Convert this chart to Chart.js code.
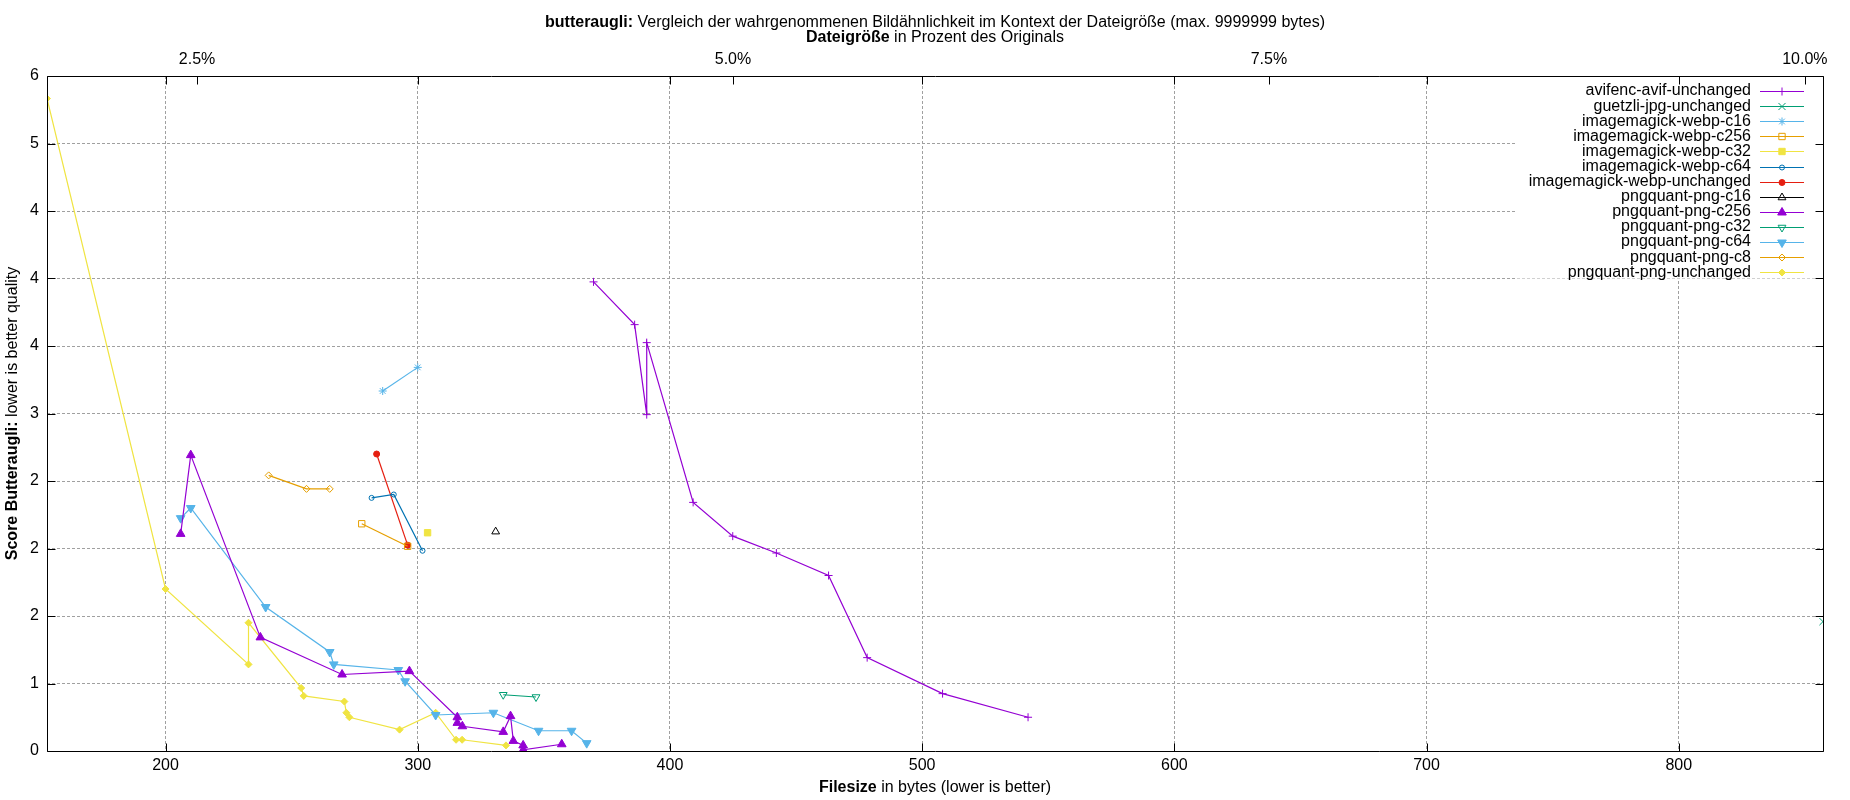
<!DOCTYPE html>
<html>
<head>
<meta charset="utf-8">
<script src="https://cdn.jsdelivr.net/npm/chart.js@4"></script>
<style>
  html, body { margin: 0; padding: 0; background: #fff; }
  canvas { display: block; }
</style>
</head>
<body>
<canvas id="grafico" width="1850" height="800"></canvas>
<script>
// werte
const origSize = 8500;
const xMin = 153.0;
const xMax = 857.2;

const xTickValues = [200, 300, 400, 500, 600, 700, 800];
const yTickValues = [0, 0.6, 1.2, 1.8, 2.4, 3.0, 3.6, 4.2, 4.8, 5.4, 6.0];
const yTickLabels = ['0', '1', '2', '2', '2', '3', '4', '4', '4', '5', '6'];
const topTickValues = [2.5, 5, 7.5, 10];
const topTickLabels = ['2.5%', '5.0%', '7.5%', '10.0%'];

const avifX = [369.7, 386.0, 390.8, 390.8, 409.2, 424.9, 442.2, 462.9, 478.2, 508.1, 542.0];
const avifY = [4.17, 3.79, 2.99, 3.63, 2.21, 1.91, 1.76, 1.56, 0.83, 0.51, 0.30];
const guetzliX = [857.2];
const guetzliY = [1.15];
const webpC16X = [286.1, 300.0];
const webpC16Y = [3.20, 3.41];
const webpC256X = [277.8, 296.0];
const webpC256Y = [2.02, 1.82];
const webpC32X = [303.9];
const webpC32Y = [1.94];
const webpC64X = [281.7, 290.5, 301.9];
const webpC64Y = [2.25, 2.28, 1.78];
const webpUnchX = [283.7, 296.0];
const webpUnchY = [2.64, 1.83];
const pngC16X = [330.9];
const pngC16Y = [1.95];
const pngC256X = [206.0, 210.0, 237.6, 270.0, 296.7, 315.7, 315.7, 317.7, 333.9, 336.8, 337.9, 341.8, 341.8, 357.1];
const pngC256Y = [1.93, 2.63, 1.01, 0.68, 0.71, 0.30, 0.25, 0.22, 0.17, 0.31, 0.09, 0.05, 0.01, 0.06];
const pngC32X = [333.9, 346.9];
const pngC32Y = [0.50, 0.48];
const pngC64X = [206.0, 210.0, 239.7, 265.1, 266.7, 292.3, 295.0, 307.1, 330.0, 347.9, 361.0, 367.0];
const pngC64Y = [2.07, 2.16, 1.28, 0.88, 0.77, 0.72, 0.62, 0.32, 0.34, 0.18, 0.18, 0.07];
const pngC8X = [240.9, 255.9, 265.1];
const pngC8Y = [2.45, 2.33, 2.33];
const pngUnchX = [153.0, 200.0, 232.9, 232.9, 253.8, 254.8, 270.9, 271.7, 272.9, 292.8, 307.1, 315.2, 317.6, 335.0];
const pngUnchY = [5.80, 1.44, 0.77, 1.14, 0.56, 0.49, 0.44, 0.34, 0.30, 0.19, 0.34, 0.10, 0.10, 0.05];

const fuente = '"Liberation Sans", Arial, sans-serif';

function puntos(xs, ys){
    return xs.map((x, i) => ({x: x, y: ys[i]}));
}

function serie(label, xs, ys, color, estilo, radio, relleno, rot){
    return {
        label: label,
        data: puntos(xs, ys),
        showLine: true,
        borderColor: color,
        borderWidth: 1.2,
        backgroundColor: color,
        pointStyle: estilo,
        pointRadius: radio,
        pointHoverRadius: radio,
        pointRotation: rot || 0,
        pointBorderColor: color,
        pointBorderWidth: 1,
        pointBackgroundColor: relleno ? color : 'rgba(0,0,0,0)',
        tension: 0,
    };
}

const datasets = [
    serie('avifenc-avif-unchanged', avifX, avifY, '#9400d3', 'cross', 4, false),
    serie('guetzli-jpg-unchanged', guetzliX, guetzliY, '#009e73', 'crossRot', 5, false),
    serie('imagemagick-webp-c16', webpC16X, webpC16Y, '#56b4e9', 'star', 4, false),
    serie('imagemagick-webp-c256', webpC256X, webpC256Y, '#e69f00', 'rect', 4.5, false),
    serie('imagemagick-webp-c32', webpC32X, webpC32Y, '#f0e442', 'rect', 4.5, true),
    serie('imagemagick-webp-c64', webpC64X, webpC64Y, '#0072b2', 'circle', 2.5, false),
    serie('imagemagick-webp-unchanged', webpUnchX, webpUnchY, '#e51e10', 'circle', 3, true),
    serie('pngquant-png-c16', pngC16X, pngC16Y, '#000000', 'triangle', 4.5, false),
    serie('pngquant-png-c256', pngC256X, pngC256Y, '#9400d3', 'triangle', 5, true),
    serie('pngquant-png-c32', pngC32X, pngC32Y, '#009e73', 'triangle', 4.5, false, 180),
    serie('pngquant-png-c64', pngC64X, pngC64Y, '#56b4e9', 'triangle', 5, true, 180),
    serie('pngquant-png-c8', pngC8X, pngC8Y, '#e69f00', 'rectRot', 3.5, false),
    serie('pngquant-png-unchanged', pngUnchX, pngUnchY, '#f0e442', 'rectRot', 3.5, true),
];

// texto con partes en negrita
function textoMixto(ctx, partes, x, y){
    let total = 0;
    partes.forEach(p => {
        ctx.font = (p[1] ? 'bold ' : '') + '16px ' + fuente;
        total += ctx.measureText(p[0]).width;
    });
    let pos = x - total / 2;
    ctx.textAlign = 'left';
    ctx.textBaseline = 'middle';
    partes.forEach(p => {
        ctx.font = (p[1] ? 'bold ' : '') + '16px ' + fuente;
        ctx.fillText(p[0], pos, y);
        pos += ctx.measureText(p[0]).width;
    });
}

const marco = {
    id: 'marco',
    beforeDraw(chart){
        const ctx = chart.ctx;
        ctx.save();
        ctx.fillStyle = '#fff';
        ctx.fillRect(0, 0, chart.width, chart.height);
        ctx.restore();
    },
    afterDraw(chart){
        const ctx = chart.ctx;
        const a = chart.chartArea;
        const sx = chart.scales.x, sy = chart.scales.y, sx2 = chart.scales.x2;
        const L = Math.round(a.left) + 0.5, R = Math.round(a.right) + 0.5;
        const T = Math.round(a.top) + 0.5, B = Math.round(a.bottom) + 0.5;
        ctx.save();

        // caja de la leyenda opaca
        const keyLeft = 1517, keyBottom = 278;
        ctx.fillStyle = '#fff';
        ctx.fillRect(keyLeft, T + 0.5, R - keyLeft - 0.5, keyBottom - T);

        // borde y ticks hacia adentro
        ctx.strokeStyle = '#000';
        ctx.lineWidth = 1;
        ctx.setLineDash([]);
        ctx.beginPath();
        ctx.rect(L, T, R - L, B - T);
        xTickValues.forEach(v => {
            const px = Math.round(sx.getPixelForValue(v)) + 0.5;
            ctx.moveTo(px, B); ctx.lineTo(px, B - 8);
            ctx.moveTo(px, T); ctx.lineTo(px, T + 8);
        });
        topTickValues.forEach(v => {
            const px = Math.round(sx2.getPixelForValue(v)) + 0.5;
            ctx.moveTo(px, T); ctx.lineTo(px, T + 8);
        });
        yTickValues.forEach(v => {
            const py = Math.round(sy.getPixelForValue(v)) + 0.5;
            ctx.moveTo(L, py); ctx.lineTo(L + 8, py);
            ctx.moveTo(R, py); ctx.lineTo(R - 8, py);
        });
        ctx.stroke();

        // leyenda
        const textRight = 1751, lineL = 1760, lineR = 1804, firstRow = 91, rowH = 15.1;
        chart.data.datasets.forEach((ds, i) => {
            const y = firstRow + i * rowH;
            ctx.fillStyle = '#000';
            ctx.font = '16px ' + fuente;
            ctx.textAlign = 'right';
            ctx.textBaseline = 'middle';
            ctx.fillText(ds.label, textRight, y);
            ctx.strokeStyle = ds.borderColor;
            ctx.lineWidth = 1;
            ctx.beginPath();
            ctx.moveTo(lineL, Math.round(y) + 0.5);
            ctx.lineTo(lineR, Math.round(y) + 0.5);
            ctx.stroke();
            ctx.fillStyle = ds.pointBackgroundColor;
            ctx.strokeStyle = ds.pointBorderColor;
            Chart.helpers.drawPoint(ctx, {
                pointStyle: ds.pointStyle,
                rotation: ds.pointRotation,
                radius: ds.pointRadius,
                borderWidth: 1,
            }, (lineL + lineR) / 2, Math.round(y) + 0.5);
        });

        // titulos
        ctx.fillStyle = '#000';
        const cx = (a.left + a.right) / 2;
        textoMixto(ctx, [['butteraugli:', true], [' Vergleich der wahrgenommenen Bildähnlichkeit im Kontext der Dateigröße (max. 9999999 bytes)', false]], cx, 23);
        textoMixto(ctx, [['Dateigröße', true], [' in Prozent des Originals', false]], cx, 38);
        textoMixto(ctx, [['Filesize', true], [' in bytes (lower is better)', false]], cx, 788);
        ctx.save();
        ctx.translate(13, (a.top + a.bottom) / 2);
        ctx.rotate(-Math.PI / 2);
        textoMixto(ctx, [['Score Butteraugli:', true], [' lower is better quality', false]], 0, 0);
        ctx.restore();

        ctx.restore();
    }
};

const fontTicks = {family: fuente, size: 16};

let canvas = document.getElementById('grafico').getContext('2d');
let G = new Chart(canvas, {
    type: 'scatter',
    data: {datasets: datasets},
    options: {
        responsive: false,
        animation: false,
        devicePixelRatio: 1,
        layout: {padding: {left: 0, right: 27, top: 0, bottom: 0}},
        plugins: {
            legend: {display: false},
            title: {display: false},
            tooltip: {enabled: false},
        },
        scales: {
            x: {
                type: 'linear',
                position: 'bottom',
                min: xMin,
                max: xMax,
                afterBuildTicks: s => { s.ticks = xTickValues.map(v => ({value: v})); },
                afterFit: s => { s.height = 49; },
                grid: {color: '#a0a0a0', lineWidth: 1, drawTicks: false},
                border: {display: false, dash: [3, 2]},
                ticks: {padding: 5, color: '#000', font: fontTicks, autoSkip: false, maxRotation: 0,
                        callback: v => String(v)},
            },
            x2: {
                type: 'linear',
                axis: 'x',
                position: 'top',
                min: xMin / origSize * 100,
                max: xMax / origSize * 100,
                afterBuildTicks: s => { s.ticks = topTickValues.map(v => ({value: v})); },
                afterFit: s => { s.height = 76; },
                grid: {display: false, drawTicks: false},
                border: {display: false},
                ticks: {padding: 7, color: '#000', font: fontTicks, autoSkip: false, maxRotation: 0,
                        callback: (v, i) => topTickLabels[i]},
            },
            y: {
                type: 'linear',
                position: 'left',
                min: 0,
                max: 6,
                afterBuildTicks: s => { s.ticks = yTickValues.map(v => ({value: v})); },
                afterFit: s => { s.width = 47; },
                grid: {color: '#a0a0a0', lineWidth: 1, drawTicks: false},
                border: {display: false, dash: [3, 2]},
                ticks: {padding: 8, color: '#000', font: fontTicks, autoSkip: false,
                        callback: (v, i) => yTickLabels[i]},
            },
        },
    },
    plugins: [marco],
});
</script>
</body>
</html>
